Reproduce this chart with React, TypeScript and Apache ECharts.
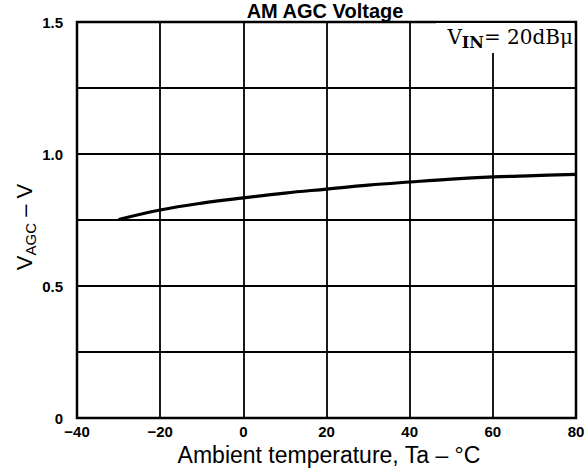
import React, { useEffect, useRef } from "react";
import * as echarts from "echarts";

const temperatures = [-30, -20, -10, 0, 10, 20, 30, 40, 50, 60, 70, 80];
const vagc = [0.752, 0.788, 0.814, 0.834, 0.852, 0.867, 0.882, 0.894, 0.905, 0.913, 0.918, 0.923];
const xTicks = { min: -40, max: 80, interval: 20 };
const yTicks = { min: 0, max: 1.5, interval: 0.25 };
const titleText = "AM AGC Voltage";
const xName = "Ambient temperature, Ta – °C";
const yName = "{v|V}{s|AGC}{v| – V}";
const conditionText = "{v|V}{s|IN}{v|= 20dBμ}";

export default function App() {
  const ref = useRef<HTMLDivElement>(null);
  useEffect(() => {
    if (!ref.current) return;
    const chart = echarts.init(ref.current, null, { renderer: "svg" });
    const data = temperatures.map((t, i) => [t, vagc[i]]);
    chart.setOption({
      animation: false,
      backgroundColor: "#fff",
      grid: {
        left: 77,
        right: 12,
        top: 22,
        bottom: 52,
        containLabel: false,
        outerBoundsMode: "none",
        show: true,
        borderColor: "#000",
        borderWidth: 2.5,
        backgroundColor: "transparent",
      },
      xAxis: {
        type: "value",
        min: xTicks.min,
        max: xTicks.max,
        interval: xTicks.interval,
        axisLine: { show: false },
        axisTick: { show: false },
        splitLine: { show: true, lineStyle: { color: "#000", width: 1.8 } },
        axisLabel: {
          color: "#000",
          fontFamily: "Liberation Sans, Arial, sans-serif",
          fontWeight: "bold",
          fontSize: 15,
          margin: 6,
          showMinLabel: true,
          showMaxLabel: true,
          formatter: (v: number) => (v < 0 ? "−" + Math.abs(v) : String(v)),
        },
      },
      yAxis: {
        type: "value",
        min: yTicks.min,
        max: yTicks.max,
        interval: yTicks.interval,
        axisLine: { show: false },
        axisTick: { show: false },
        splitLine: { show: true, lineStyle: { color: "#000", width: 1.8 } },
        axisLabel: {
          color: "#000",
          fontFamily: "Liberation Sans, Arial, sans-serif",
          fontWeight: "bold",
          fontSize: 15,
          margin: 14,
          formatter: (v: number) => {
            if (v === 0) return "0";
            if (Math.round(v * 100) % 50 === 0) return v.toFixed(1);
            return "";
          },
        },
      },
      series: [
        {
          type: "line",
          data,
          smooth: 0.4,
          showSymbol: false,
          symbol: "none",
          lineStyle: { color: "#000", width: 3.2 },
          z: 5,
        },
      ],
      graphic: [
        {
          type: "text",
          x: 325,
          y: 10.5,
          style: {
            text: titleText,
            fill: "#000",
            font: "bold 20px 'Liberation Sans', Arial, sans-serif",
            textAlign: "center",
            textVerticalAlign: "middle",
          },
        },
        {
          type: "text",
          x: 329,
          y: 455,
          style: {
            text: xName,
            fill: "#000",
            font: "23px 'Liberation Sans', Arial, sans-serif",
            textAlign: "center",
            textVerticalAlign: "middle",
          },
        },
        {
          type: "text",
          x: 24,
          y: 227,
          rotation: Math.PI / 2,
          style: {
            text: yName,
            fill: "#000",
            textAlign: "center",
            textVerticalAlign: "middle",
            rich: {
              v: {
                fontFamily: "Liberation Sans, Arial, sans-serif",
                fontSize: 22,
                lineHeight: 28,
                fill: "#000",
              },
              s: {
                fontFamily: "Liberation Sans, Arial, sans-serif",
                fontSize: 15,
                lineHeight: 28,
                verticalAlign: "bottom",
                fill: "#000",
              },
            },
          },
        },
        {
          type: "rect",
          shape: { x: 436, y: 23, width: 138, height: 30 },
          style: { fill: "#fff" },
          z: 10,
        },
        {
          type: "text",
          x: 573,
          y: 37,
          z: 11,
          style: {
            text: conditionText,
            textAlign: "right",
            textVerticalAlign: "middle",
            fill: "#000",
            rich: {
              v: {
                fontFamily: "DejaVu Serif, Liberation Serif, serif",
                fontSize: 20,
                lineHeight: 26,
                fill: "#000",
              },
              s: {
                fontFamily: "DejaVu Serif, Liberation Serif, serif",
                fontWeight: "bold",
                fontSize: 16,
                lineHeight: 26,
                verticalAlign: "bottom",
                fill: "#000",
              },
            },
          },
        },
      ],
    });
    return () => chart.dispose();
  }, []);
  return <div ref={ref} style={{ width: 588, height: 470, position: "absolute", left: 0, top: 0 }} />;
}
